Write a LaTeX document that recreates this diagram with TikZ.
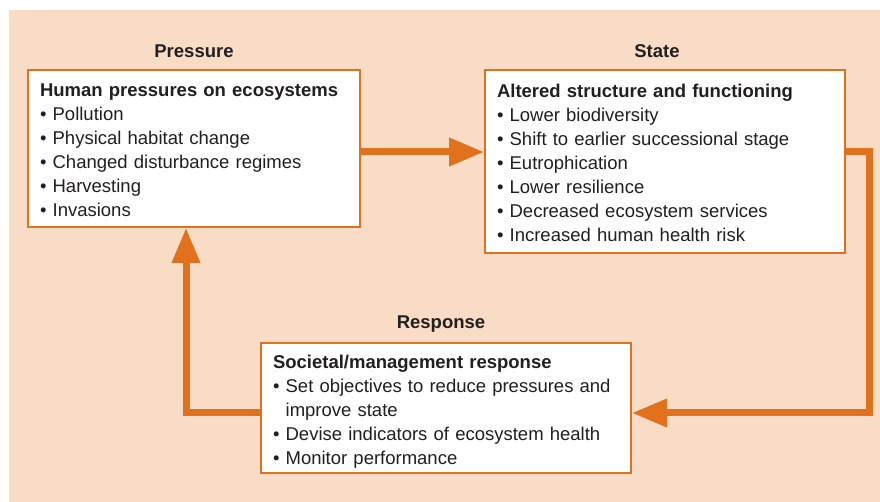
\documentclass[tikz,border=0pt]{standalone}
\usepackage{fontspec}
\setmainfont{Liberation Sans}
\usetikzlibrary{arrows.meta}

\definecolor{dpsrorange}{RGB}{226,113,30}
\definecolor{dpsrpeach}{RGB}{249,220,197}
\definecolor{dpsrtext}{RGB}{35,31,32}

\tikzset{
  box/.style={draw=dpsrorange, line width=1pt, fill=white, anchor=north west,
    align=left, inner xsep=6pt, text=dpsrtext,
    font=\fontsize{9.25}{12}\selectfont},
  head/.style={text=dpsrtext, font=\fontsize{9.25}{12}\selectfont\bfseries},
  flow/.style={dpsrorange, line width=3.5pt,
    -{Triangle[length=17.5pt,width=13.5pt]}}
}

\begin{document}
\begin{tikzpicture}[x=0.5pt,y=-0.5pt]
  \useasboundingbox (0,0) rectangle (880,502);
  \fill[dpsrpeach] (9,10) rectangle (880,502);

  % headings
  \node[head] (hpress) at (194,51) {Pressure};
  \node[head] (hstate) at (657,51) {State};
  \node[head] (hresp) at (441,324) {Response};

  % boxes
  \node[box, text width=154pt, minimum height=78.5pt] (press) at (27,69)
    {\rule{0pt}{8.2pt}\textbf{Human pressures on ecosystems}\\
     \textbullet\ Pollution\\
     \textbullet\ Physical habitat change\\
     \textbullet\ Changed disturbance regimes\\
     \textbullet\ Harvesting\\
     \textbullet\ Invasions};
  \node[box, text width=168pt, minimum height=91.5pt] (state) at (484,69)
    {\rule{0pt}{8.2pt}\textbf{Altered structure and functioning}\\
     \textbullet\ Lower biodiversity\\
     \textbullet\ Shift to earlier successional stage\\
     \textbullet\ Eutrophication\\
     \textbullet\ Lower resilience\\
     \textbullet\ Decreased ecosystem services\\
     \textbullet\ Increased human health risk};
  \node[box, text width=173pt, minimum height=65pt, inner ysep=2.5pt] (resp) at (260,342)
    {\rule{0pt}{10pt}\textbf{Societal/management response}\\
     \textbullet\ Set objectives to reduce pressures and\\
     \phantom{\textbullet\ }improve state\\
     \textbullet\ Devise indicators of ecosystem health\\
     \textbullet\ Monitor performance};

  % bends of the loop
  \coordinate (ne) at (869,152);
  \coordinate (se) at (869,413);
  \coordinate (sw) at (186,413);

  \draw[flow] (press.east |- ne) -- (state.west |- ne);
  \draw[flow] (state.east |- ne) -- (ne) -- (se) -- (resp.east |- se);
  \draw[flow] (resp.west |- sw) -- (sw) -- (press.south -| sw);
\end{tikzpicture}
\end{document}
